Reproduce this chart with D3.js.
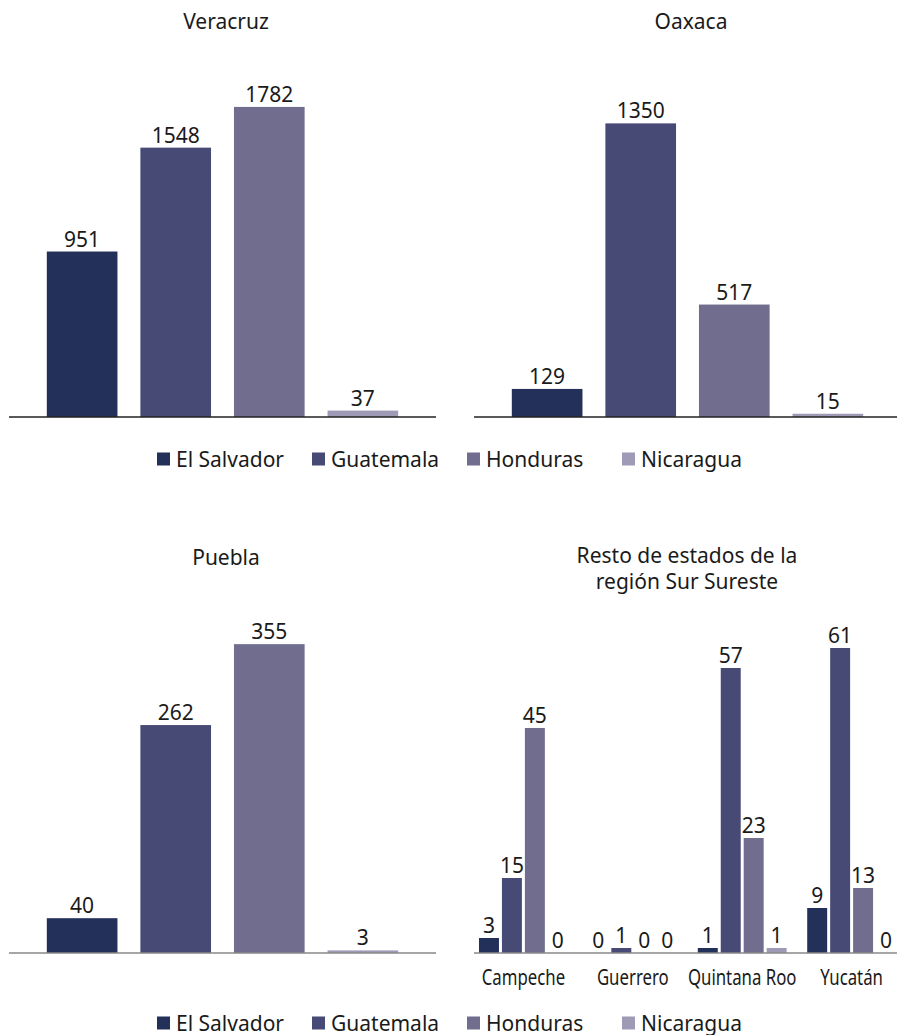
<!DOCTYPE html>
<html>
<head>
<meta charset="utf-8">
<script src="https://cdn.jsdelivr.net/npm/d3@7/dist/d3.min.js"></script>
<style>
  html, body { margin: 0; padding: 0; background: #fff; }
  svg { display: block; font-family: "Noto Sans", "Open Sans", sans-serif; }
</style>
</head>
<body>
<svg id="chart" width="897" height="1035"></svg>
<script>
// Migrants by country of origin, per state
const countries = ["El Salvador", "Guatemala", "Honduras", "Nicaragua"];
const colors = ["#22305a", "#484a76", "#716d8e", "#9f9bb6"];

const veracruzValues = [951, 1548, 1782, 37];
const oaxacaValues = [129, 1350, 517, 15];
const pueblaValues = [40, 262, 355, 3];

const otherStates = ["Campeche", "Guerrero", "Quintana Roo", "Yucatán"];
const campecheValues = [3, 15, 45, 0];
const guerreroValues = [0, 1, 0, 0];
const quintanaRooValues = [1, 57, 23, 1];
const yucatanValues = [9, 61, 13, 0];
const otherValues = [campecheValues, guerreroValues, quintanaRooValues, yucatanValues];

const svg = d3.select("#chart");
const textColor = "#1a1a1a";
const fontSize = 21;

// Simple single-series panel: one bar per country
function simplePanel({ x0, baseY, title, values, yMax, axisColor }) {
  const g = svg.append("g");
  const x = d3.scaleBand().domain(countries).range([x0, x0 + 427])
    .paddingInner(0.245).paddingOuter(0.404);
  const y = d3.scaleLinear().domain([0, yMax]).range([baseY, baseY - 348]);

  g.append("text")
    .attr("x", x0 + 217).attr("y", baseY - 388)
    .attr("text-anchor", "middle").attr("font-size", fontSize).attr("fill", textColor)
    .text(title);

  g.selectAll("rect").data(values).join("rect")
    .attr("x", (d, i) => x(countries[i]))
    .attr("width", x.bandwidth())
    .attr("y", d => y(d))
    .attr("height", d => baseY - y(d))
    .attr("fill", (d, i) => colors[i]);

  g.selectAll("text.val").data(values).join("text").attr("class", "val")
    .attr("x", (d, i) => x(countries[i]) + x.bandwidth() / 2)
    .attr("y", d => y(d) - 5)
    .attr("text-anchor", "middle").attr("font-size", fontSize).attr("fill", textColor)
    .text(d => d);

  g.append("line")
    .attr("x1", x0).attr("x2", x0 + 427).attr("y1", baseY).attr("y2", baseY)
    .attr("stroke", axisColor).attr("stroke-width", 1.5);
}

// Grouped panel: the remaining states of the region
function groupedPanel({ x0, baseY, titleLines, yMax, axisColor }) {
  const g = svg.append("g");
  const xg = d3.scaleBand().domain(otherStates).range([x0, x0 + 427])
    .paddingInner(0.161).paddingOuter(0.032);
  const xs = d3.scaleBand().domain(countries).range([0, xg.bandwidth()])
    .paddingInner(0.13).paddingOuter(0.065);
  const y = d3.scaleLinear().domain([0, yMax]).range([baseY, baseY - 350]);

  // Two-line title, one text element per line
  titleLines.forEach((line, i) => {
    g.append("text")
      .attr("x", x0 + 213).attr("y", baseY - 390 + i * 26)
      .attr("text-anchor", "middle").attr("font-size", fontSize).attr("fill", textColor)
      .text(line);
  });

  const groups = g.selectAll("g.state").data(otherStates).join("g").attr("class", "state")
    .attr("transform", d => `translate(${xg(d)},0)`);

  groups.selectAll("rect").data((d, i) => otherValues[i]).join("rect")
    .attr("x", (d, i) => xs(countries[i]))
    .attr("width", xs.bandwidth())
    .attr("y", d => y(d))
    .attr("height", d => baseY - y(d))
    .attr("fill", (d, i) => colors[i]);

  groups.selectAll("text.val").data((d, i) => otherValues[i]).join("text").attr("class", "val")
    .attr("x", (d, i) => xs(countries[i]) + xs.bandwidth() / 2)
    .attr("y", d => y(d) - 5)
    .attr("text-anchor", "middle").attr("font-size", fontSize).attr("fill", textColor)
    .text(d => d);

  g.append("line")
    .attr("x1", x0).attr("x2", x0 + 427).attr("y1", baseY).attr("y2", baseY)
    .attr("stroke", axisColor).attr("stroke-width", 1.5);

  // Condensed category labels
  otherStates.forEach(s => {
    const cx = xg(s) + xg.bandwidth() / 2;
    g.append("text")
      .attr("transform", `translate(${cx},${baseY + 32}) scale(0.8,1)`)
      .attr("text-anchor", "middle").attr("font-size", fontSize).attr("fill", textColor)
      .text(s);
  });
}

function legend(centerY) {
  const g = svg.append("g");
  const step = 155;
  const startX = 157;
  countries.forEach((c, i) => {
    const lx = startX + i * step;
    g.append("rect").attr("x", lx).attr("y", centerY - 6.5)
      .attr("width", 13).attr("height", 13).attr("fill", colors[i]);
    g.append("text").attr("x", lx + 19).attr("y", centerY + 7.5)
      .attr("font-size", fontSize).attr("fill", textColor).text(c);
  });
}

simplePanel({ x0: 9, baseY: 417, title: "Veracruz", values: veracruzValues, yMax: 2000, axisColor: "#222" });
simplePanel({ x0: 474, baseY: 417, title: "Oaxaca", values: oaxacaValues, yMax: 1600, axisColor: "#222" });
legend(459);

simplePanel({ x0: 9, baseY: 953, title: "Puebla", values: pueblaValues, yMax: 400, axisColor: "#888" });
groupedPanel({ x0: 474, baseY: 953, titleLines: ["Resto de estados de la", "región Sur Sureste"], yMax: 70, axisColor: "#888" });
legend(1023);
</script>
</body>
</html>
